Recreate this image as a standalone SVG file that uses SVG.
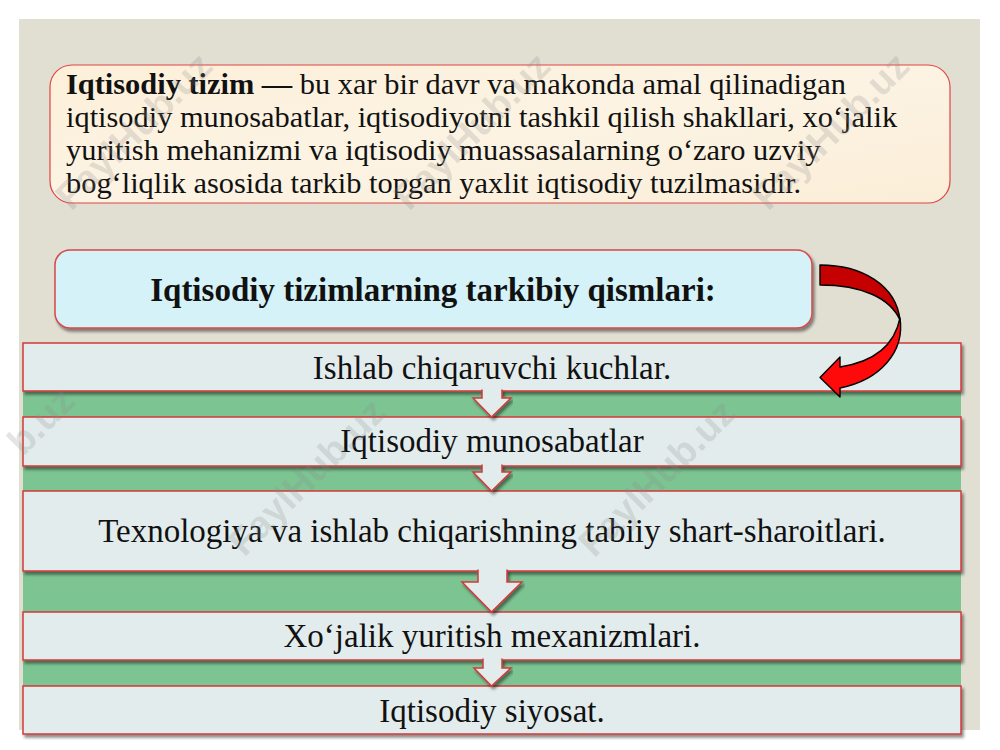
<svg xmlns="http://www.w3.org/2000/svg" width="1000" height="750" viewBox="0 0 1000 750">
<style>
.serif{font-family:"Liberation Serif","Times New Roman",serif;fill:#111}
.box{fill:#e3ecec;stroke:#d23a3a;stroke-width:1.5}
.lbl{font-size:33px;text-anchor:middle}
.wm{font-family:"Liberation Sans",Arial,sans-serif;font-weight:bold;font-size:38px;fill:#8a8a8a;opacity:0.22;text-anchor:middle}
.dn{fill:#e3ecec;stroke:#d23a3a;stroke-width:1.5}
</style>
<defs>
<filter id="sh" x="-5%" y="-20%" width="110%" height="150%">
<feDropShadow dx="2" dy="3" stdDeviation="1.8" flood-color="#000" flood-opacity="0.45"/>
</filter>
<linearGradient id="cream" x1="0" y1="0" x2="1" y2="1">
<stop offset="0" stop-color="#fdf0da"/>
<stop offset="0.5" stop-color="#fcf3e3"/>
<stop offset="1" stop-color="#fbeed8"/>
</linearGradient>
</defs>
<rect x="0" y="0" width="1000" height="750" fill="#ffffff"/>
<rect x="19" y="19" width="961" height="711" fill="#e1ded2"/>
<rect x="23" y="391" width="938" height="298" fill="#7dc493"/>

<g id="definition">
<rect x="50" y="65" width="900" height="138" rx="22" fill="url(#cream)" stroke="#e04545" stroke-width="1.2"/>
<text class="serif" x="66" y="94" font-size="30.4"><tspan font-weight="bold">Iqtisodiy tizim —</tspan> bu xar bir davr va makonda amal qilinadigan</text>
<text class="serif" x="66" y="127" font-size="30.4">iqtisodiy munosabatlar, iqtisodiyotni tashkil qilish shakllari, xo‘jalik</text>
<text class="serif" x="66" y="160" font-size="30.4">yuritish mehanizmi va iqtisodiy muassasalarning o‘zaro uzviy</text>
<text class="serif" x="66" y="193" font-size="30.4">bog‘liqlik  asosida tarkib topgan yaxlit iqtisodiy tuzilmasidir.</text>
</g>

<g id="title">
<rect x="55" y="250" width="757" height="78" rx="15" fill="#d4f2f7" stroke="#d84848" stroke-width="1.5" filter="url(#sh)"/>
<text class="serif" x="433" y="301" font-size="33" font-weight="bold" text-anchor="middle">Iqtisodiy tizimlarning tarkibiy qismlari:</text>
</g>

<g id="box1">
<rect class="box" x="23" y="343" width="938" height="48" filter="url(#sh)"/>
<text class="serif lbl" x="492" y="379">Ishlab chiqaruvchi kuchlar.</text>
</g>
<g id="box2">
<rect class="box" x="23" y="417" width="938" height="49" filter="url(#sh)"/>
<text class="serif lbl" x="492" y="452">Iqtisodiy munosabatlar</text>
</g>
<g id="box3">
<rect class="box" x="23" y="491" width="938" height="80" filter="url(#sh)"/>
<text class="serif lbl" x="492" y="542">Texnologiya va ishlab chiqarishning tabiiy shart-sharoitlari.</text>
</g>
<g id="box4">
<rect class="box" x="23" y="612" width="938" height="48" filter="url(#sh)"/>
<text class="serif lbl" x="492" y="647">Xo‘jalik yuritish mexanizmlari.</text>
</g>
<g id="box5">
<rect class="box" x="23" y="686" width="938" height="48" filter="url(#sh)"/>
<text class="serif lbl" x="492" y="722">Iqtisodiy siyosat.</text>
</g>

<g id="connectors">
<path class="dn" filter="url(#sh)" d="M482,389.5 V398 H473 L491.5,417 L511,398 H502 V389.5"/>
<path class="dn" filter="url(#sh)" d="M482,464.5 V472 H473 L491.5,491 L511,472 H502 V464.5"/>
<path class="dn" filter="url(#sh)" d="M478,569.5 V582 H462 L491.5,612 L522,582 H507 V569.5"/>
<path class="dn" filter="url(#sh)" d="M483,658.5 V668 H474 L491.5,686 L511,668 H502 V658.5"/>
<g id="curved-arrow" stroke="#000" stroke-width="1.4" stroke-linejoin="round">
<path d="M820,265 C862,265 896,285 900,320 C890,298 862,285 820,285 Z" fill="#c40000"/>
<path d="M900,318 C905,352 880,380 840,388 L840,397 L820,377.5 L840,357 L840,367 C872,362 894,348 900,318 Z" fill="#ff0a0a"/>
</g>
</g>

<g id="watermarks">
<text class="wm" transform="translate(143,140) rotate(-45)">FaylHub.uz</text>
<text class="wm" transform="translate(481,140) rotate(-45)">FaylHub.uz</text>
<text class="wm" transform="translate(840,140) rotate(-45)">FaylHub.uz</text>
<text class="wm" transform="translate(50,430) rotate(-45)">b.uz</text>
<text class="wm" transform="translate(316,486) rotate(-45)">FaylHub.uz</text>
<text class="wm" transform="translate(666,487) rotate(-45)">FaylHub.uz</text>
</g>
</svg>
